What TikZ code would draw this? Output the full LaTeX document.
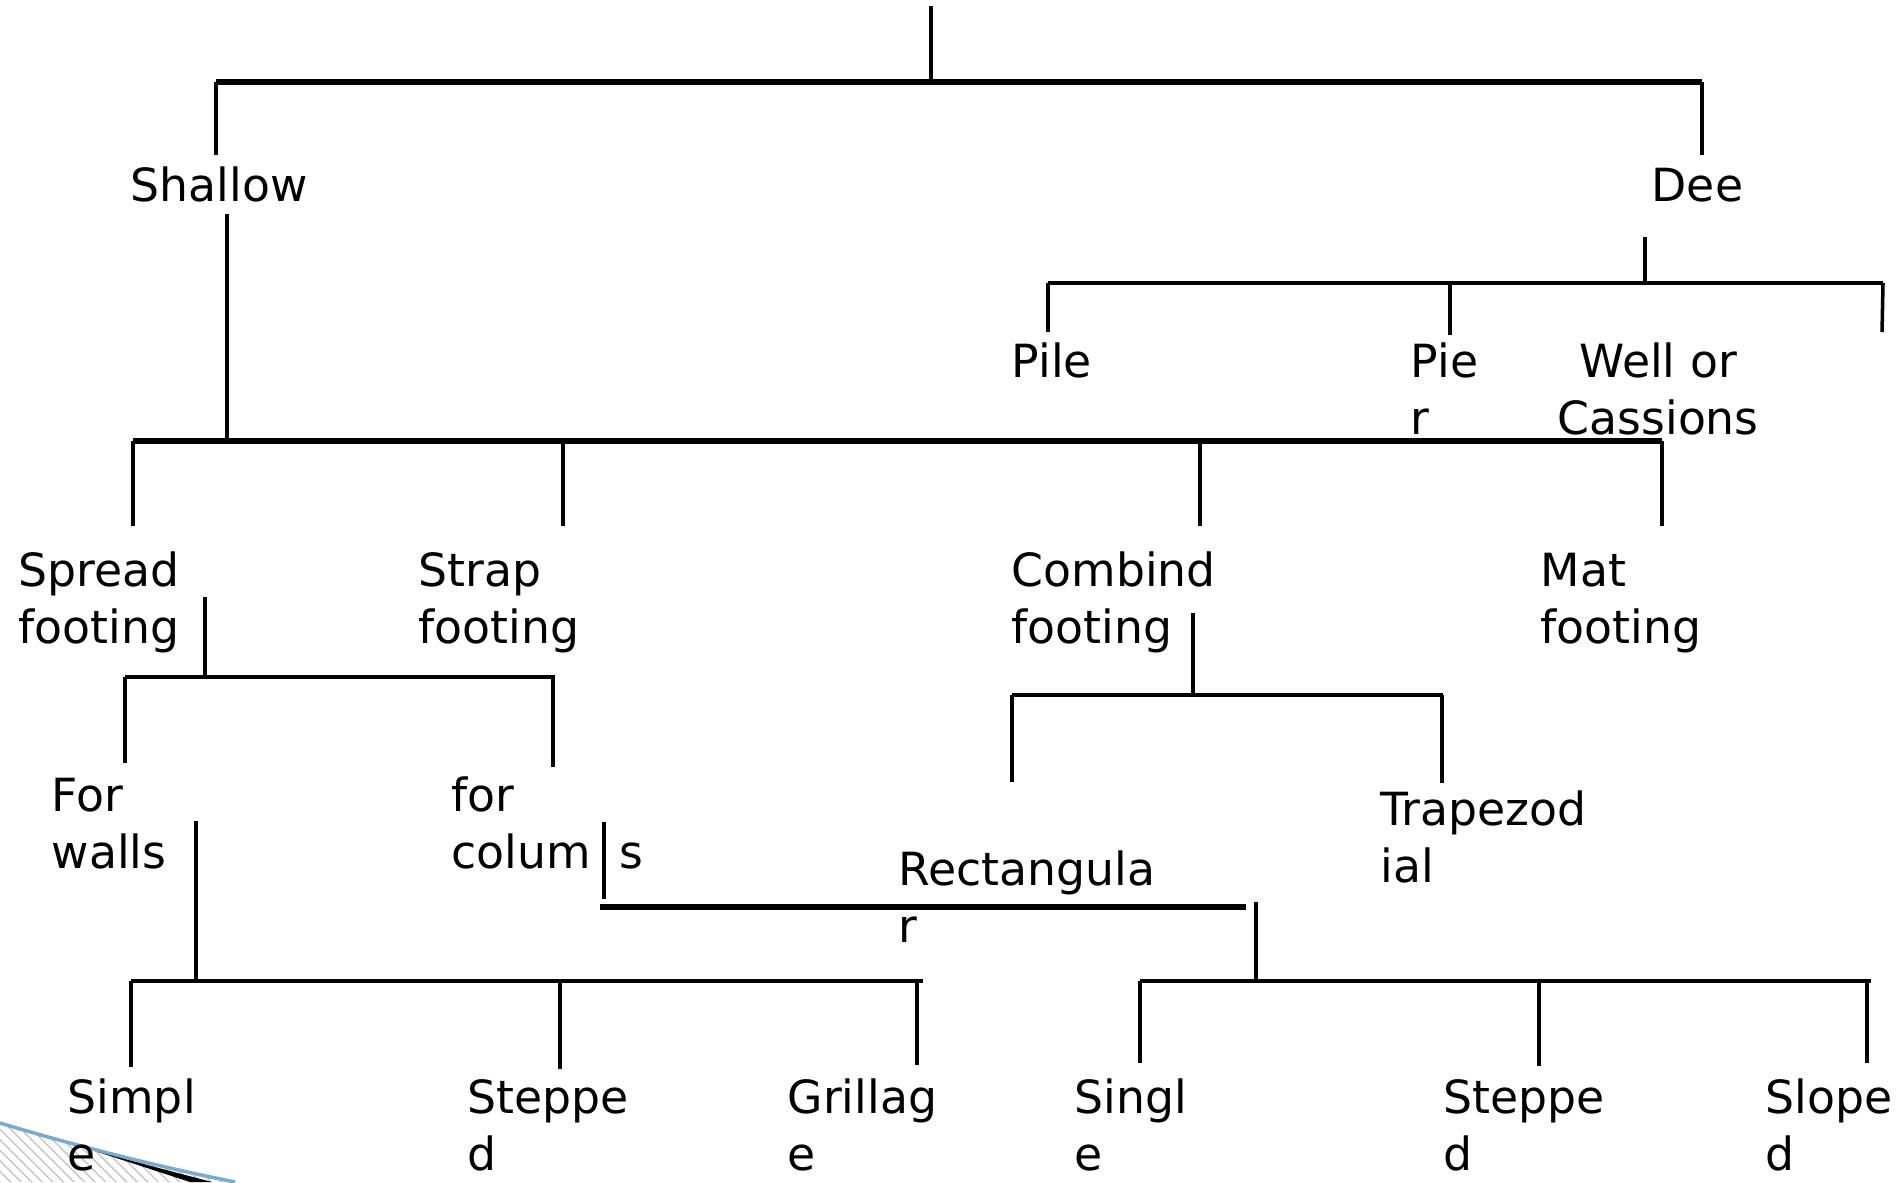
\documentclass[tikz,border=0pt]{standalone}
\usepackage{fontspec}
\setmainfont{DejaVu Sans}
\usepackage{tikz}
\usetikzlibrary{patterns}

\definecolor{swoosh}{RGB}{120,172,205}

\begin{document}
\begin{tikzpicture}
    [
    x=0.01cm, y=-0.01cm,
    lbl/.style={anchor=base west,inner sep=0pt,align=left,font=\fontsize{13}{16.2}\selectfont},
    stem/.style={line width=1pt},
    bar/.style={line width=1.3pt},
    heavybar/.style={line width=1.8pt}
    ]
    \useasboundingbox (0,0) rectangle (1901,1182);

    % corner swoosh (behind the labels)
    \fill [pattern=north west lines, pattern color=gray!45] (0,1123) .. controls (80,1147) and (160,1167) .. (235,1182) -- (0,1182) -- cycle;
    \draw [swoosh, line width=1pt] (0,1123) .. controls (80,1147) and (160,1167) .. (235,1182);
    \fill [black] (98,1152) -- (212,1182) -- (190,1182) -- cycle;

    % labels (base = baseline of the last line)
    \node (shallow) at (130,202) [lbl] {Shallow};
    \node (deep) at (1651,202) [lbl] {Dee};
    \node (pile) at (1011,377) [lbl] {Pile};
    \node (pier) at (1410,434) [lbl] {Pie\\r};
    \node (well) at (1557,434) [lbl,align=center] {Well or\\Cassions};
    \node (spread) at (18,643) [lbl] {Spread\\footing};
    \node (strap) at (418,643) [lbl] {Strap\\footing};
    \node (combind) at (1011,643) [lbl] {Combind\\footing};
    \node (mat) at (1540,643) [lbl] {Mat\\footing};
    \node (walls) at (51,868) [lbl] {For\\walls};
    \node (cols) at (451,868) [lbl] {for\\colum\phantom{n}s};
    \node (rect) at (898,942) [lbl] {Rectangula\\r};
    \node (trap) at (1380,882) [lbl] {Trapezod\\ial};
    \node (simple) at (67,1170) [lbl] {Simpl\\e};
    \node (steppedw) at (467,1170) [lbl] {Steppe\\d};
    \node (grillage) at (787,1170) [lbl] {Grillag\\e};
    \node (single) at (1074,1170) [lbl] {Singl\\e};
    \node (steppedc) at (1443,1170) [lbl] {Steppe\\d};
    \node (sloped) at (1765,1170) [lbl] {Slope\\d};

    % joints of the tree
    \foreach \nm/\px/\py in {root/931/6, topM/931/82, topL/216/82, topR/1702/82,
        shIn/216/155, deIn/1702/155, shOut/227/214, shBar/227/441,
        deOut/1645/237, deBar/1645/283, dpL/1048/283, dpR/1883/283, dpM/1450/283,
        pileIn/1048/332, pierIn/1450/335, dpEnd/1882/332,
        sbL/133/441, sbR/1662/441, sbB/563/441, sbC/1200/441,
        spIn/133/526, stIn/563/526, coIn/1200/526, maIn/1662/526,
        spOut/205/597, spBar/205/677, fbL/125/677, fbR/555/677, fbD/553/677,
        waIn/125/763, clIn/553/767,
        coOut/1193/613, coBar/1193/695, cbL/1012/695, cbR/1443/695, cbD/1442/695,
        reIn/1012/782, trIn/1442/783,
        waOut/196/821, waBar/196/981, wbL/131/981, wbR/923/981, wbB/560/981, wbC/917/981,
        siIn/131/1067, swIn/560/1069, grIn/917/1065,
        clOut/604/822, clEnd/604/899, rbL/600/907, rbR/1246/907,
        rcOut/1256/902, rcBar/1256/981, bbL/1140/981, bbR/1871/981, bbB/1539/981, bbC/1867/981,
        sgIn/1140/1063, scIn/1539/1066, slIn/1867/1063}
      \coordinate (\nm) at (\px,\py);

    \draw [stem] (root) to (topM);
    \draw [heavybar] (topL) to (topR);
    \draw [stem] (topL) to (shIn);
    \draw [stem] (topR) to (deIn);

    \draw [stem] (deOut) to (deBar);
    \draw [bar] (dpL) to (dpR);
    \draw [stem] (dpL) to (pileIn);
    \draw [stem] (dpM) to (pierIn);
    \draw [stem] (dpR) to (dpEnd);

    \draw [stem] (shOut) to (shBar);
    \draw [heavybar] (sbL) to (sbR);
    \draw [stem] (sbL) to (spIn);
    \draw [stem] (sbB) to (stIn);
    \draw [stem] (sbC) to (coIn);
    \draw [stem] (sbR) to (maIn);

    \draw [stem] (spOut) to (spBar);
    \draw [bar] (fbL) to (fbR);
    \draw [stem] (fbL) to (waIn);
    \draw [stem] (fbD) to (clIn);

    \draw [stem] (coOut) to (coBar);
    \draw [bar] (cbL) to (cbR);
    \draw [stem] (cbL) to (reIn);
    \draw [stem] (cbD) to (trIn);

    \draw [stem] (waOut) to (waBar);
    \draw [bar] (wbL) to (wbR);
    \draw [stem] (wbL) to (siIn);
    \draw [stem] (wbB) to (swIn);
    \draw [stem] (wbC) to (grIn);

    \draw [stem] (clOut) to (clEnd);
    \draw [heavybar] (rbL) to (rbR);
    \draw [stem] (rcOut) to (rcBar);
    \draw [bar] (bbL) to (bbR);
    \draw [stem] (bbL) to (sgIn);
    \draw [stem] (bbB) to (scIn);
    \draw [stem] (bbC) to (slIn);
\end{tikzpicture}
\end{document}
